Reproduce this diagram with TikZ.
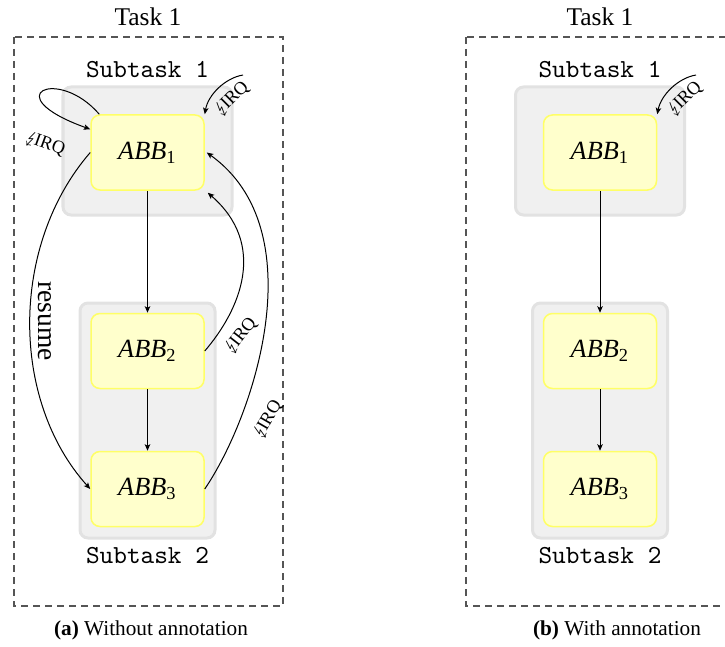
\documentclass[tikz,border=0pt]{standalone}
\usepackage{fontspec}
\setmainfont{Liberation Serif}
\usepackage{stmaryrd}
\usetikzlibrary{arrows.meta}

\definecolor{grpfill}{HTML}{F0F0F0}
\definecolor{grpline}{HTML}{E2E2E2}
\definecolor{abbfill}{HTML}{FFFFCC}
\definecolor{abbline}{HTML}{FFFF66}
\definecolor{taskline}{HTML}{555555}

\newcommand{\irqtext}{$\lightning$\kern-1.2pt IRQ}
\newcommand{\abbtext}[1]{\textit{ABB}\textsubscript{#1}}

\begin{document}
\begin{tikzpicture}[x=0.4pt,y=-0.4pt,
  taskbox/.style={draw=taskline, line width=0.5pt, dash pattern=on 2.8pt off 2pt},
  tasklabel/.style={font=\fontsize{10.2}{12}\selectfont},
  sublabel/.style={font=\fontsize{10.4}{12}\ttfamily},
  group/.style={draw=grpline, fill=grpfill, line width=1.2pt, rounded corners=3.2pt},
  abb/.style={draw=abbline, fill=abbfill, line width=0.6pt, rounded corners=3.6pt,
    minimum width=45.2pt, minimum height=30pt, inner sep=0pt,
    font=\fontsize{10.5}{12}\selectfont},
  flow/.style={-{Stealth[length=2.6pt,width=2.2pt,inset=0.6pt]}, line width=0.4pt},
  irq/.style={font=\fontsize{7.3}{8}\selectfont, inner sep=0.5pt},
  caption/.style={font=\fontsize{8.5}{10}\selectfont}
]
\useasboundingbox (0,0) rectangle (725,646);

% ---------- (a) without annotation ----------
\draw[taskbox] (14,37) rectangle (283,606);
\node[tasklabel] (ta) at (148,17) {Task 1};
\node[sublabel] (s1la) at (147.5,70) {Subtask 1};
\node[sublabel] (s2la) at (147.5,556) {Subtask 2};

\node[group, minimum width=67.6pt, minimum height=51.2pt] (g1a) at (147.5,151) {};
\node[group, minimum width=54pt, minimum height=94pt] (g2a) at (147.5,420.5) {};

\node[abb] (a1) at (147.5,152.5) {\abbtext{1}};
\node[abb] (a2) at (147.5,351) {\abbtext{2}};
\node[abb] (a3) at (147.5,489) {\abbtext{3}};

\draw[flow] (a1) -- (a2);
\draw[flow] (a2) -- (a3);

% interrupt returning into ABB1 itself
\draw[flow] ([shift={(9,0)}]a1.north west) .. controls (58,66) and (-5,95) .. ([shift={(0,15)}]a1.north west);
\node[irq, rotate=-20] (l1a) at (45,144) {\irqtext};

% interrupt arriving from outside
\coordinate (ina) at (243,75);
\draw[flow] (ina) .. controls (225,78) and (208,95) .. (a1.north east);
\node[irq, rotate=45] (l2a) at (232,99) {\irqtext};

% resume path from ABB1 to ABB3
\draw[flow] (a1.west) .. controls (10,245) and (10,400) .. (a3.west);
\node[rotate=-90, font=\fontsize{11}{12}\selectfont, inner sep=0pt] (res) at (45,321) {resume};

% interrupts from ABB2 and ABB3 back to ABB1
\draw[flow] (a2.east) .. controls (240,310) and (268,245) .. ([shift={(3,2)}]a1.south east);
\node[irq, rotate=52] (l3a) at (241,336) {\irqtext};
\draw[flow] (a3.east) .. controls (255,415) and (315,230) .. ([shift={(2,0)}]a1.east);
\node[irq, rotate=60] (l4a) at (268,420) {\irqtext};

\node[caption] (capa) at (151,630) {\textbf{(a)} Without annotation};

% ---------- (b) with annotation ----------
\draw[taskbox] (466,37) rectangle (735,606);
\node[tasklabel] (tb) at (600,17) {Task 1};
\node[sublabel] (s1lb) at (600,70) {Subtask 1};
\node[sublabel] (s2lb) at (600,556) {Subtask 2};

\node[group, minimum width=67.6pt, minimum height=51.2pt] (g1b) at (600,151) {};
\node[group, minimum width=54pt, minimum height=94pt] (g2b) at (600,420.5) {};

\node[abb] (b1) at (600,152.5) {\abbtext{1}};
\node[abb] (b2) at (600,351) {\abbtext{2}};
\node[abb] (b3) at (600,489) {\abbtext{3}};

\draw[flow] (b1) -- (b2);
\draw[flow] (b2) -- (b3);

\coordinate (inb) at (696,75);
\draw[flow] (inb) .. controls (678,78) and (661,95) .. (b1.north east);
\node[irq, rotate=45] (l2b) at (685,99) {\irqtext};

\node[caption] (capb) at (617,630) {\textbf{(b)} With annotation};
\end{tikzpicture}
\end{document}
